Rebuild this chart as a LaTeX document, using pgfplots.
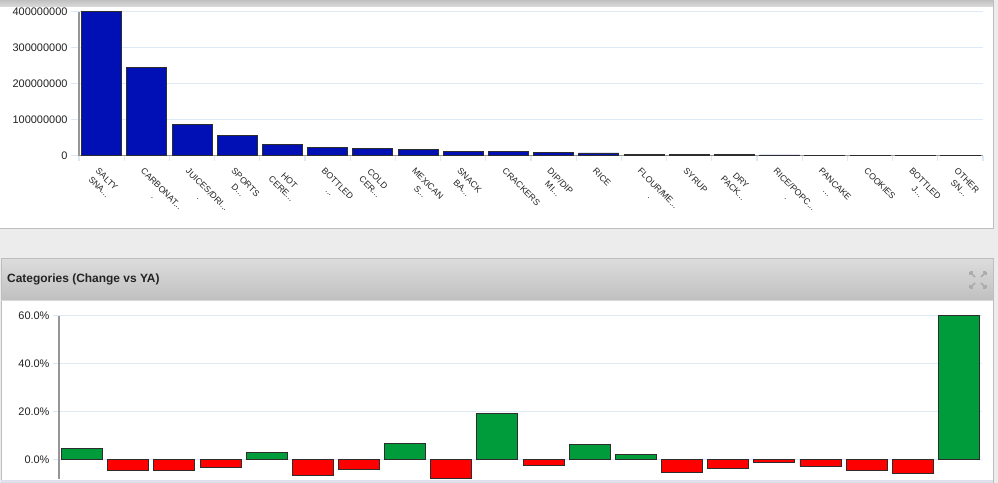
\documentclass[border=0pt]{standalone}
\usepackage{pgfplots}
\pgfplotsset{compat=1.18}
\usepackage{fontspec}
\setmainfont{Liberation Sans}
\definecolor{bgc}{RGB}{236,236,236}
\definecolor{panelb}{RGB}{190,190,190}
\definecolor{hdtop}{RGB}{220,220,220}
\definecolor{hdbot}{RGB}{192,192,192}
\definecolor{gridc}{RGB}{222,233,246}
\definecolor{axc}{RGB}{150,150,150}
\definecolor{txtc}{RGB}{35,35,35}
\definecolor{barblue}{RGB}{0,16,181}
\definecolor{bargreen}{RGB}{0,155,58}
\definecolor{barred}{RGB}{255,0,0}
\definecolor{edgec}{RGB}{45,45,45}
\newcommand{\el}{.\kern0pt.\kern0pt.}
\begin{document}
\begin{tikzpicture}[x=1bp,y=1bp]
\useasboundingbox (0,0) rectangle (998,483);
\fill[bgc] (0,0) rectangle (998,483);
% top panel
\fill[white] (0,254) rectangle (993,483);
\shade[top color=hdbot, bottom color=hdtop] (0,476) rectangle (993,483);
\draw[panelb, line width=1bp] (0,254) -- (993,254) -- (993,483);
% bottom panel
\fill[white] (1,3) rectangle (993,183);
\shade[top color=hdtop, bottom color=hdbot] (1,183) rectangle (993,224);
\draw[panelb, line width=1bp] (1,0) -- (1,224) -- (993,224) -- (993,0);
\draw[panelb!60, line width=0.8bp] (1,183) -- (993,183);
\fill[bgc!95!blue] (1,0) rectangle (993,3);
\node[anchor=west, font=\bfseries\fontsize{12}{14}\selectfont, text=txtc, inner sep=0] at (7,203.5) {Categories (Change vs YA)};
% expand icon
\begin{scope}[draw=axc!80, line width=1.6bp]
\draw (970,211) -- (975,206); \draw (970,211) -- (970,208); \draw (970,211) -- (973,211);
\draw (986,211) -- (981,206); \draw (986,211) -- (986,208); \draw (986,211) -- (983,211);
\draw (970,195) -- (975,200); \draw (970,195) -- (970,198); \draw (970,195) -- (973,195);
\draw (986,195) -- (981,200); \draw (986,195) -- (986,198); \draw (986,195) -- (983,195);
\end{scope}

% top chart
\begin{axis}[
  at={(79bp,327.3bp)}, anchor=south west, scale only axis,
  width=904bp, height=144bp,
  xmin=-0.5, xmax=19.5, ymin=0, ymax=4e8,
  clip=false,
  axis x line*=bottom, axis y line*=left,
  axis line style={axc, line width=1.1bp},
  ymajorgrids, grid style={gridc, line width=1.3bp},
  ytick={0,1e8,2e8,3e8,4e8},
  yticklabels={0,100000000,200000000,300000000,400000000},
  scaled y ticks=false,
  yticklabel style={font=\fontsize{11}{13}\selectfont, text=txtc},
  ytick style={gridc, line width=1.3bp},
  major tick length=8bp,
  tick align=outside,
  xtick={0,1,2,3,4,5,6,7,8,9,10,11,12,13,14,15,16,17,18,19},
  xtick style={draw=none},
  xticklabels={{SALTY\\SNA\el},{CARBONAT\el\\.},{JUICES/DRI\el\\.},{SPORTS\\D\el},{HOT\\CERE\el},{BOTTLED\\\el},{COLD\\CER\el},{MEXICAN\\S\el},{SNACK\\BA\el},{CRACKERS},{DIP/DIP\\MI\el},{RICE},{FLOUR/ME\el\\.},{SYRUP},{DRY\\PACK\el},{RICE/POPC\el\\.},{PANCAKE\\\el},{COOKIES},{BOTTLED\\J\el},{OTHER\\SN\el}},
  xticklabel style={rotate=-45, anchor=north west, align=center, font=\fontsize{8.8}{11}\selectfont, text=txtc, inner sep=1bp, xshift=0bp, yshift=-3bp},
  extra x ticks={-0.5,0.5,1.5,2.5,3.5,4.5,5.5,6.5,7.5,8.5,9.5,10.5,11.5,12.5,13.5,14.5,15.5,16.5,17.5,18.5,19.5},
  extra x tick labels={},
  extra x tick style={xtick style={gridc, line width=1.3bp, draw=gridc}, major tick length=5bp},
  ybar, bar width=40bp,
]
\addplot[ybar, bar shift=0pt, fill=barblue, draw=edgec, line width=0.9bp] coordinates {
(0,401e6) (1,245e6) (2,86e6) (3,56e6) (4,32e6) (5,22e6) (6,20.5e6) (7,18.5e6) (8,12e6) (9,11e6)
(10,9.5e6) (11,7.5e6) (12,4.5e6) (13,3e6) (14,2.5e6) (15,2e6) (16,1.5e6) (17,1.2e6) (18,0.8e6) (19,0.5e6)};
\end{axis}

% bottom chart
\begin{axis}[
  at={(59bp,3.8bp)}, anchor=south west, scale only axis,
  width=923bp, height=163.5bp,
  xmin=-0.5, xmax=19.5, ymin=-8.3, ymax=60,
  clip=false,
  axis x line=none, axis y line*=left,
  axis line style={axc, line width=1.2bp},
  ymajorgrids, grid style={gridc, line width=1.3bp},
  ytick={0,20,40,60},
  yticklabels={0.0\%,20.0\%,40.0\%,60.0\%},
  yticklabel style={font=\fontsize{11}{13}\selectfont, text=txtc},
  ytick style={gridc, line width=1.3bp},
  major tick length=6bp,
  tick align=outside,
  ybar, bar width=41bp,
]
\addplot[ybar, bar shift=0pt, fill=bargreen, draw=edgec, line width=0.9bp] coordinates {
(0,4.7) (4,3.0) (7,6.5) (9,19.0) (11,6.4) (12,2.2) (19,60.0)};
\addplot[ybar, bar shift=0pt, fill=barred, draw=edgec, line width=0.9bp] coordinates {
(1,-4.8) (2,-4.8) (3,-3.6) (5,-6.8) (6,-4.3) (8,-7.9) (10,-2.5) (13,-5.6) (14,-3.9) (15,-1.4) (16,-2.9) (17,-4.5) (18,-5.9)};
\end{axis}
\end{tikzpicture}
\end{document}
